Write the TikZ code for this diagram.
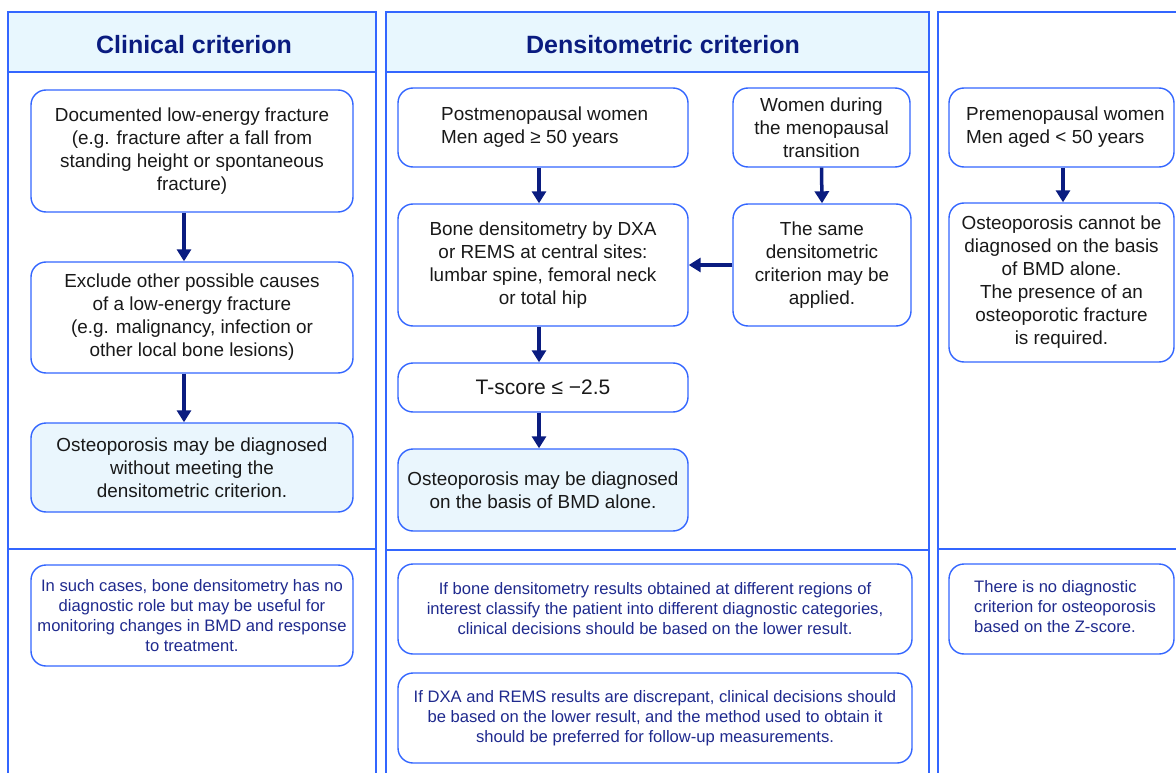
\documentclass[tikz,border=0pt]{standalone}
\usepackage{fontspec}
\setmainfont{Liberation Sans}
\usetikzlibrary{arrows.meta}
\definecolor{bordblue}{HTML}{3366FF}
\definecolor{navy}{HTML}{0A1C80}
\definecolor{notetext}{HTML}{1F2A8E}
\definecolor{hdrfill}{HTML}{E8F7FE}
\definecolor{endfill}{HTML}{EAF6FD}
\tikzset{
  panelline/.style={draw=bordblue, line width=1.5pt},
  box/.style={draw=bordblue, line width=1.4pt, rounded corners=15pt, fill=white, inner sep=0pt, align=center, font=\fontsize{18.9}{23}\selectfont, text=black!90},
  endbox/.style={box, fill=endfill},
  notebox/.style={draw=bordblue, line width=1.4pt, rounded corners=15pt, fill=white, inner sep=0pt, align=center, font=\fontsize{16.6}{20}\selectfont, text=notetext},
  title/.style={font=\bfseries\fontsize{25}{28}\selectfont, text=navy},
  plain/.style={inner sep=0pt, align=left, font=\fontsize{18.9}{23}\selectfont, text=black!90},
  plainnote/.style={inner sep=0pt, align=left, font=\fontsize{16.6}{20}\selectfont, text=notetext},
  flow/.style={draw=navy, line width=3.5pt, -{Triangle[length=12pt,width=14pt]}}
}
\begin{document}
\begin{tikzpicture}[x=1pt,y=-1pt]
\useasboundingbox (0,0) rectangle (1176,773);
\fill[white] (0,0) rectangle (1176,773);
% panels
\fill[hdrfill] (8,12) rectangle (376,72);
\fill[hdrfill] (386,12) rectangle (929,72);
\draw[panelline] (8,773) -- (8,12) -- (376,12) -- (376,773);
\draw[panelline] (8,72) -- (376,72);
\draw[panelline] (8,549) -- (376,549);
\draw[panelline] (386,773) -- (386,12) -- (929,12) -- (929,773);
\draw[panelline] (386,72) -- (929,72);
\draw[panelline] (386,550) -- (929,550);
\draw[panelline] (938,773) -- (938,12) -- (1177,12);
\draw[panelline] (938,549) -- (1177,549);
\node[title] (t1) at (194,45) {Clinical criterion};
\node[title] (t2) at (663,45) {Densitometric criterion};
% panel 1
\node[box, minimum width=322pt, minimum height=122pt] (A) at (192,151) {Documented low-energy fracture\\(e.g. fracture after a fall from\\standing height or spontaneous\\fracture)};
\node[box, minimum width=322pt, minimum height=111pt] (B) at (192,317.5) {Exclude other possible causes\\of a low-energy fracture\\(e.g. malignancy, infection or\\other local bone lesions)};
\node[endbox, minimum width=322pt, minimum height=89pt] (C) at (192,467.5) {Osteoporosis may be diagnosed\\without meeting the\\densitometric criterion.};
\node[notebox, minimum width=322pt, minimum height=101pt] (N1) at (192,615.5) {In such cases, bone densitometry has no\\diagnostic role but may be useful for\\monitoring changes in BMD and response\\to treatment.};
\draw[flow] (A.south -| 184,0) -- (B.north -| 184,0);
\draw[flow] (B.south -| 184,0) -- (C.north -| 184,0);
% panel 2
\node[box, minimum width=290pt, minimum height=79pt] (D) at (543,127.5) {};
\node[plain, anchor=west] (Dt) at (441,127) {Postmenopausal women\\Men aged ≥ 50 years};
\node[box, minimum width=177pt, minimum height=79pt] (E) at (821.5,127.5) {Women during\\the menopausal\\transition};
\node[box, minimum width=290pt, minimum height=122pt] (F) at (543,265) {Bone densitometry by DXA\\or REMS at central sites:\\lumbar spine, femoral neck\\or total hip};
\node[box, minimum width=178pt, minimum height=122pt] (G) at (822,265) {The same\\densitometric\\criterion may be\\applied.};
\node[box, minimum width=290pt, minimum height=49pt, font=\fontsize{21}{23}\selectfont] (H) at (543,387.5) {T-score ≤ −2.5};
\node[endbox, minimum width=290pt, minimum height=82pt] (I) at (543,490) {Osteoporosis may be diagnosed\\on the basis of BMD alone.};
\node[notebox, minimum width=514pt, minimum height=90pt] (N2) at (655,609) {If bone densitometry results obtained at different regions of\\interest classify the patient into different diagnostic categories,\\clinical decisions should be based on the lower result.};
\node[notebox, minimum width=514pt, minimum height=90pt] (N3) at (655,718) {If DXA and REMS results are discrepant, clinical decisions should\\be based on the lower result, and the method used to obtain it\\should be preferred for follow-up measurements.};
\draw[flow] (D.south -| 539,0) -- (F.north -| 539,0);
\draw[flow] (E.south) -- (G.north);
\draw[flow] (G.west) -- (F.east);
\draw[flow] (F.south -| 539,0) -- (H.north -| 539,0);
\draw[flow] (H.south -| 539,0) -- (I.north -| 539,0);
% panel 3
\node[box, minimum width=225pt, minimum height=79pt] (J) at (1061.5,127.5) {};
\node[plain, anchor=west] (Jt) at (966,127) {Premenopausal women\\Men aged < 50 years};
\node[box, minimum width=225pt, minimum height=159pt] (K) at (1061.5,282.5) {Osteoporosis cannot be\\diagnosed on the basis\\of BMD alone.\\The presence of an\\osteoporotic fracture\\is required.};
\node[notebox, minimum width=225pt, minimum height=90pt] (N4) at (1061.5,609) {};
\node[plainnote, anchor=west] (N4t) at (974,607) {There is no diagnostic\\criterion for osteoporosis\\based on the Z-score.};
\draw[flow] (J.south -| 1063,0) -- (K.north -| 1063,0);
\end{tikzpicture}
\end{document}
